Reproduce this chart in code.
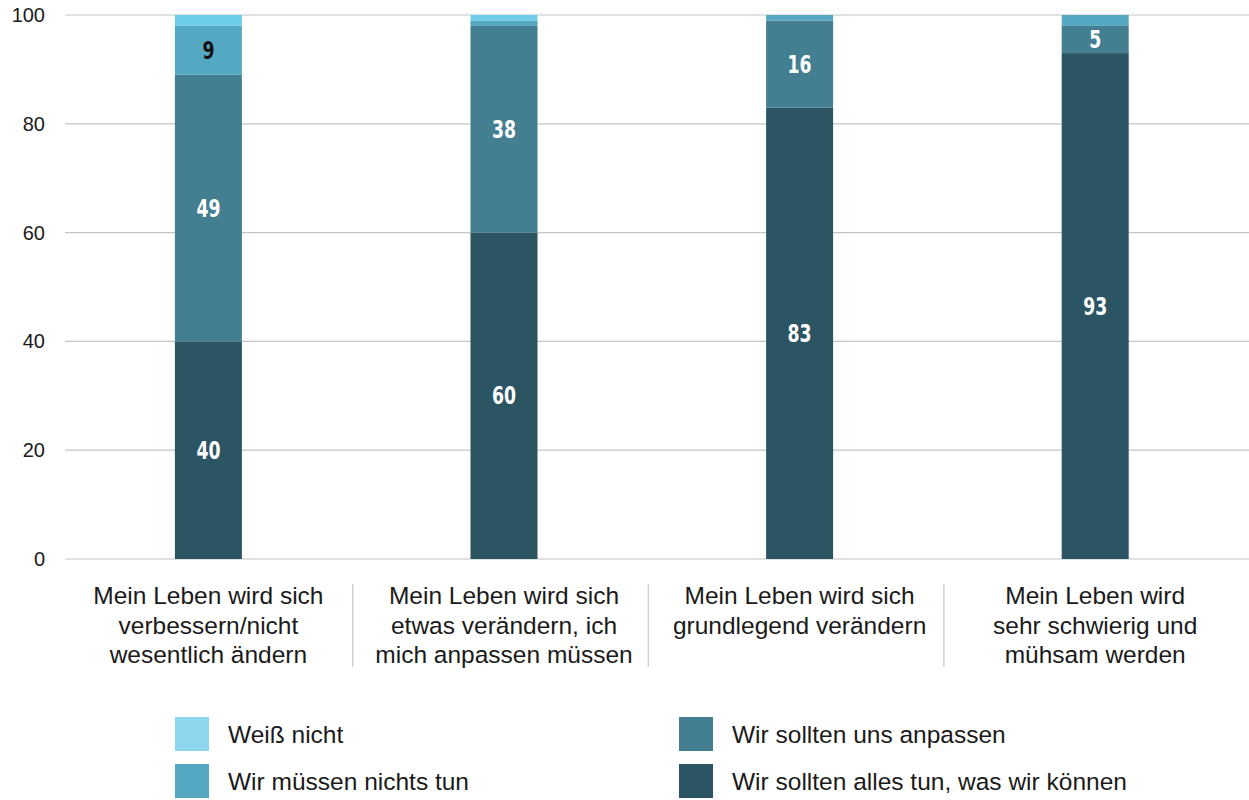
<!DOCTYPE html>
<html>
<head>
<meta charset="utf-8">
<script src="https://cdn.jsdelivr.net/npm/d3@7"></script>
<style>
  body { margin: 0; background: #fff; }
  .tick-label { font-family: "Liberation Sans", Arial, sans-serif; font-size: 20px; fill: #1a1a1a; }
  .cat-label { font-family: "Liberation Sans", Arial, sans-serif; font-size: 24.5px; fill: #1a1a1a; }
  .legend-label { font-family: "Liberation Sans", Arial, sans-serif; font-size: 24.5px; fill: #1a1a1a; }
  .value-label { font-family: "DejaVu Sans", sans-serif; font-weight: bold; font-size: 24px; }
</style>
</head>
<body>
<div id="chart"></div>
<script>
const width = 1249,
  height = 800,
  margin = { top: 15, bottom: 241, left: 65, right: 0 };

// categories (one per bar), each split into lines
const categories = [
  ["Mein Leben wird sich", "verbessern/nicht", "wesentlich ändern"],
  ["Mein Leben wird sich", "etwas verändern, ich", "mich anpassen müssen"],
  ["Mein Leben wird sich", "grundlegend verändern"],
  ["Mein Leben wird", "sehr schwierig und", "mühsam werden"]
];

// series, bottom to top
const seriesNames = ["Wir sollten alles tun, was wir können", "Wir sollten uns anpassen", "Wir müssen nichts tun", "Weiß nicht"];
const allesTun = [40, 60, 83, 93];
const anpassen = [49, 38, 16, 5];
const nichtsTun = [9, 1, 1, 2];
const weissNicht = [2, 1, 0, 0];
const colors = ["#2b5563", "#437f90", "#55a8c1", "#6ecde9"];
const yTicks = [0, 20, 40, 60, 80, 100];

const seriesValues = [allesTun, anpassen, nichtsTun, weissNicht];

const rows = categories.map((c, i) => {
  const row = { key: i };
  seriesNames.forEach((s, j) => (row[s] = seriesValues[j][i]));
  return row;
});

const stacked = d3.stack().keys(seriesNames)(rows);

const svg = d3
  .select("#chart")
  .append("svg")
  .attr("width", width)
  .attr("height", height);

const xScale = d3
  .scaleBand()
  .domain(d3.range(categories.length))
  .range([60.6, 1243]);

const yScale = d3
  .scaleLinear()
  .domain([0, 100])
  .range([height - margin.bottom, margin.top]);

const barWidth = 67;

// gridlines
svg
  .append("g")
  .selectAll("line")
  .data(yTicks)
  .join("line")
  .attr("x1", margin.left)
  .attr("x2", width)
  .attr("y1", d => yScale(d))
  .attr("y2", d => yScale(d))
  .attr("stroke", "#c4c4c4")
  .attr("stroke-width", 1.2);

svg
  .append("g")
  .selectAll("text")
  .data(yTicks)
  .join("text")
  .attr("class", "tick-label")
  .attr("x", 45)
  .attr("y", d => yScale(d))
  .attr("dy", "0.35em")
  .attr("text-anchor", "end")
  .text(d => d);

// bars
const layer = svg
  .append("g")
  .selectAll("g")
  .data(stacked)
  .join("g")
  .attr("fill", (d, i) => colors[i]);

layer
  .selectAll("rect")
  .data(d => d)
  .join("rect")
  .attr("x", (d, i) => xScale(i) + xScale.bandwidth() / 2 - barWidth / 2)
  .attr("width", barWidth)
  .attr("y", d => yScale(d[1]))
  .attr("height", d => yScale(d[0]) - yScale(d[1]));

// value labels (condensed look via horizontal squeeze)
stacked.forEach((s, j) => {
  svg
    .append("g")
    .selectAll("text")
    .data(s.filter(d => d[1] - d[0] >= 5))
    .join("text")
    .attr("class", "value-label")
    .attr("transform", d => `translate(${xScale(d.data.key) + xScale.bandwidth() / 2},${yScale((d[0] + d[1]) / 2)}) scale(0.72,1)`)
    .attr("dy", "0.36em")
    .attr("text-anchor", "middle")
    .attr("fill", j === 2 ? "#111" : "#fff")
    .text(d => d[1] - d[0]);
});

// separators between categories
svg
  .append("g")
  .selectAll("line")
  .data(d3.range(1, categories.length))
  .join("line")
  .attr("x1", d => xScale(d) - 3.5)
  .attr("x2", d => xScale(d) - 3.5)
  .attr("y1", 584)
  .attr("y2", 667)
  .attr("stroke", "#c8c8c8")
  .attr("stroke-width", 1.2);

// category labels
svg
  .append("g")
  .selectAll("text")
  .data(categories)
  .join("text")
  .attr("class", "cat-label")
  .attr("text-anchor", "middle")
  .attr("x", (d, i) => xScale(i) + xScale.bandwidth() / 2)
  .attr("y", 604)
  .selectAll("tspan")
  .data(d => d)
  .join("tspan")
  .attr("x", function() { return this.parentNode.getAttribute("x"); })
  .attr("dy", (d, i) => (i === 0 ? 0 : 29.5))
  .text(d => d);

// legend
const legendItems = [
  { name: "Weiß nicht", color: "#8ed6ee", col: 0, row: 0 },
  { name: "Wir müssen nichts tun", color: colors[2], col: 0, row: 1 },
  { name: "Wir sollten uns anpassen", color: colors[1], col: 1, row: 0 },
  { name: "Wir sollten alles tun, was wir können", color: colors[0], col: 1, row: 1 }
];

const legend = svg
  .append("g")
  .selectAll("g")
  .data(legendItems)
  .join("g")
  .attr("transform", d => `translate(${175 + d.col * 504},${717 + d.row * 47})`);

legend
  .append("rect")
  .attr("width", 34)
  .attr("height", 34)
  .attr("fill", d => d.color);

legend
  .append("text")
  .attr("class", "legend-label")
  .attr("x", 53)
  .attr("y", 17)
  .attr("dy", "0.35em")
  .text(d => d.name);
</script>
</body>
</html>
